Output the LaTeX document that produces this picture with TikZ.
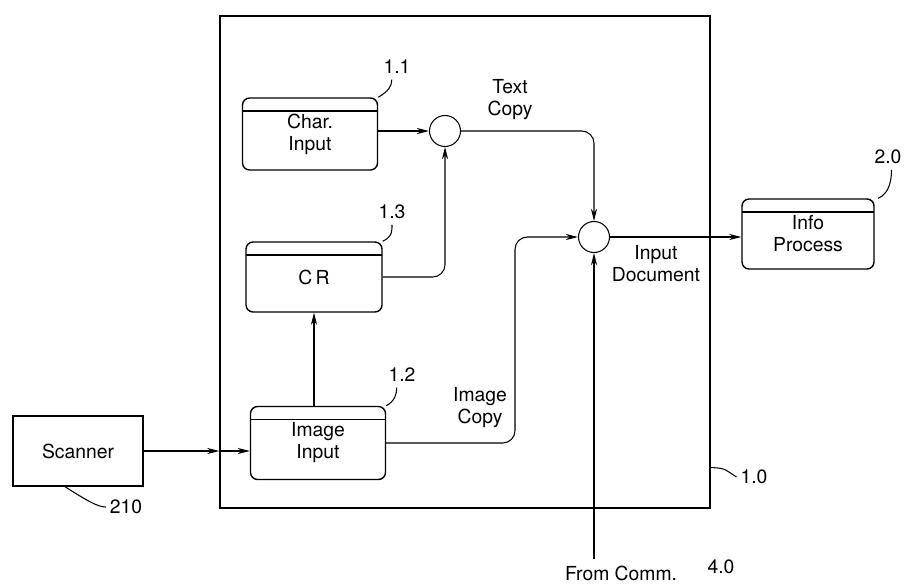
\documentclass[tikz,border=0pt]{standalone}
\usepackage{fontspec}
\setmainfont{TeX Gyre Heros}
\usetikzlibrary{arrows.meta}

\begin{document}
\begin{tikzpicture}[x=0.02cm,y=-0.02cm,font=\fontsize{11}{12.5}\selectfont,
    >={Stealth[length=7pt,width=3.5pt]},semithick,
    proc/.style={draw,thick,rounded corners=4pt,minimum width=2.7cm,minimum height=1.44cm,align=center,
        path picture={\draw[thick]([yshift=-0.26cm]path picture bounding box.north west)--([yshift=-0.26cm]path picture bounding box.north east);}},
    junc/.style={draw,circle,minimum size=0.62cm,inner sep=0pt},
    lbl/.style={inner sep=1pt}]
    \useasboundingbox(0,0)rectangle(911,584);

    \node[draw,thick,minimum width=9.8cm,minimum height=9.84cm](sys)at(465,262){};
    \node[proc](ci)at(310,134){Char.\\Input};
    \node[proc,minimum width=2.72cm,minimum height=1.4cm](cr)at(314,277){C\,R};
    \node[proc,minimum height=1.46cm](ii)at(318,443){Image\\Input};
    \node[proc,minimum width=2.64cm,minimum height=1.4cm](ip)at(808,234){Info\\Process};
    \node[draw,thick,minimum width=2.6cm,minimum height=1.4cm](sc)at(78,451){Scanner};
    \node[junc](c1)at(445,131){};
    \node[junc](c2)at(594,237){};

    % flows
    \draw[->](ci.east|-c1.west)--(c1.west);
    \draw[->,rounded corners=7pt](cr.east)-|(c1.south);
    \draw[->,rounded corners=7pt](c1.east)-|(c2.north);
    \draw[->](ii.north-|cr.south)--(cr.south);
    \coordinate(icx)at(515,340);
    \draw[->,rounded corners=7pt](ii.east)-|(icx)|-(c2.west);
    \draw[->](c2.east)--(c2.east-|ip.west);
    \coordinate(inb)at(sys.west|-sc.east);
    \draw[->](sc.east)--(inb);
    \draw[->](inb)--(inb-|ii.west);
    \node(fc)at(621,573){From Comm.};
    \node(n40)at(721,567){4.0};
    \draw[->](fc.north-|c2.south)--(c2.south);

    % flow labels
    \node[align=center](tc)at(510,100){Text\\Copy};
    \node[align=center](ic)at(480,408){Image\\Copy};
    \node[align=center](id)at(656,264){Input\\Document};

    % reference numbers
    \node[lbl](n11)at(397,67){1.1};
    \node[lbl](n13)at(392,212){1.3};
    \node[lbl](n12)at(402,375){1.2};
    \node[lbl](n20)at(888,157){2.0};
    \node[lbl](n10)at(754,477){1.0};
    \node[lbl](n210)at(126,507){210};
    \draw(ci.north east)..controls+(10,-6)and+(0,7)..([xshift=-3pt,yshift=-2pt]n11.south);
    \draw(cr.north east)..controls+(10,-5)and+(0,6)..([yshift=-2pt]n13.south);
    \draw(ii.north east)..controls+(9,-5)and+(0,6)..([xshift=-3pt,yshift=-2pt]n12.south);
    \draw([xshift=2pt]ip.north east)..controls+(12,-5)and+(0,8)..([xshift=2pt,yshift=-2pt]n20.south);
    \draw([yshift=0.82cm]sys.south east)..controls+(16,0)and+(-10,-6)..([xshift=-1pt]n10.west);
    \draw([xshift=-0.26cm]sc.south)..controls+(22,14)and+(-8,0)..([xshift=-1pt]n210.west);
\end{tikzpicture}
\end{document}
